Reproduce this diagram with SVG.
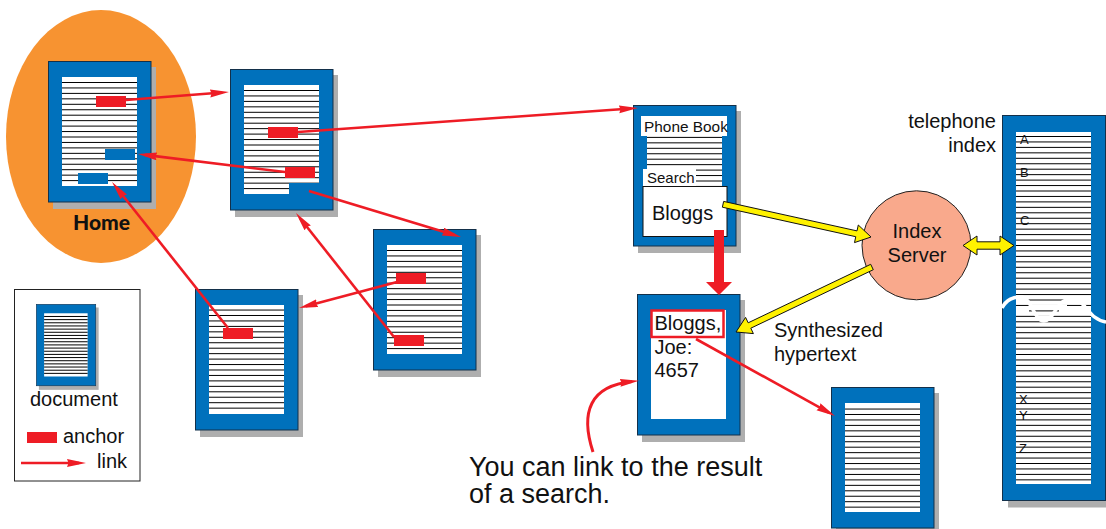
<svg xmlns="http://www.w3.org/2000/svg" width="1106" height="529" viewBox="0 0 1106 529">
<style>
text{font-family:"Liberation Sans",Arial,sans-serif;font-size:20px;fill:#111}
.shadow{fill:#aeaeae}
.page{fill:#0071bc;stroke:#13304a;stroke-width:1}
.paper{fill:#fff}
.blk{stroke:#000;stroke-width:1;fill:none;vector-effect:non-scaling-stroke}
.anchor{fill:#ee1c25}
.bluea{fill:#0071bc}
.link{stroke:#ee1c25;stroke-width:2.6;fill:none;marker-end:url(#head)}
.yel{fill:#fff200;stroke:#111;stroke-width:1}
.mini{font-size:13px}
</style>
<defs>
<marker id="head" markerUnits="userSpaceOnUse" markerWidth="20" markerHeight="9" refX="12" refY="4" orient="auto"><path d="M0,0 L19,4 L0,8 L1.500,4 Z" fill="#ee1c25"/></marker>
<g id="frame"><rect class="shadow" x="5" y="6" width="103" height="142"/><rect class="page" x="0.5" y="0.5" width="102.500" height="140.500"/><rect class="paper" x="14" y="16" width="75" height="109"/></g>
<path id="lines" class="blk" d="M14,21.500H89M14,26.950H89M14,32.400H89M14,37.850H89M14,43.300H89M14,48.750H89M14,54.200H89M14,59.650H89M14,65.100H89M14,70.550H89M14,76H89M14,81.450H89M14,86.900H89M14,92.350H89M14,97.800H89M14,103.250H89M14,108.700H89M14,114.150H89M14,119.600H89"/>
<g id="doc"><use href="#frame"/><use href="#lines"/></g>
<clipPath id="idxclip"><rect x="1016" y="132" width="75" height="352"/></clipPath>
</defs>

<ellipse id="home-area" cx="101" cy="136.500" rx="95" ry="126.500" fill="#f79331"/>

<g id="doc-home" transform="translate(48,61)"><use href="#doc"/><rect class="anchor" x="48" y="35" width="30" height="11"/><rect class="bluea" x="57" y="88" width="30" height="11"/><rect class="bluea" x="30" y="112" width="30" height="11"/></g>
<text id="home-label" x="73" y="230" style="font-family:Lato,sans-serif;font-weight:900;font-size:21px" fill="#000">Home</text>

<g id="doc-2" transform="translate(230,69)"><use href="#doc"/><rect class="bluea" x="59" y="114" width="31" height="12"/><rect class="anchor" x="38" y="58" width="30" height="11"/><rect class="anchor" x="55" y="98" width="30" height="11"/></g>
<g id="doc-3" transform="translate(373,229)"><use href="#doc"/><rect class="anchor" x="23" y="44" width="30" height="11"/><rect class="anchor" x="21" y="106" width="30" height="11"/></g>
<g id="doc-4" transform="translate(195,289)"><use href="#frame"/><use href="#lines" y="-0.450"/><rect class="anchor" x="28" y="39" width="30" height="11"/></g>

<g id="legend"><rect x="14.500" y="289.500" width="125.500" height="191.500" fill="#fff" stroke="#222" stroke-width="1"/><use href="#doc" transform="translate(36,304) scale(.58)"/><text x="30" y="406">document</text><rect class="anchor" x="27" y="432" width="30" height="11"/><text x="63" y="443">anchor</text><text x="97" y="468">link</text><line class="link" x1="21" y1="463" x2="79" y2="463"/></g>

<g id="doc-phone" transform="translate(633,105)"><use href="#doc"/>
<rect class="bluea" x="8" y="28" width="6" height="4"/>
<rect class="paper" x="8" y="11" width="86" height="20"/>
<rect class="paper" x="10" y="64" width="53" height="18"/>
<rect x="10" y="81.500" width="84" height="50" fill="#fff" stroke="#111" stroke-width="1"/>
<text x="11" y="27" style="font-size:15.400px">Phone Book</text><text x="14" y="78" style="font-size:15px">Search</text><text x="19" y="115">Bloggs</text></g>

<g id="doc-result" transform="translate(637,294)"><use href="#frame"/><rect x="14.500" y="16.500" width="72" height="26.500" fill="#fff" stroke="#ee1c25" stroke-width="2.500"/><text x="17.500" y="36">Bloggs,</text><text x="17.500" y="60">Joe:</text><text x="17.500" y="83">4657</text></g>
<g id="doc-target" transform="translate(831,387)"><use href="#frame"/><use href="#lines" y="0.550"/></g>

<g id="doc-index"><rect class="shadow" x="1008" y="121" width="98" height="386.500"/><rect class="page" x="1002.500" y="115.500" width="103" height="385"/><rect class="paper" x="1016" y="132" width="75" height="352"/>
<g clip-path="url(#idxclip)"><use href="#lines" transform="translate(1002,115)"/><use href="#lines" transform="translate(1002,224)"/><use href="#lines" transform="translate(1002,333)"/><use href="#lines" transform="translate(1002,442)"/><path class="blk" d="M1016,240.050H1091M1016,349.050H1091M1016,458.050H1091"/></g>
<text class="mini" x="1020" y="144">A</text><text class="mini" x="1020" y="177">B</text><text class="mini" x="1020" y="225">C</text><text class="mini" x="1019" y="404">X</text><text class="mini" x="1019" y="420">Y</text><text class="mini" x="1019" y="453">Z</text>
<g id="break" fill="#fff"><rect x="1016" y="299" width="9" height="2"/><rect x="1066" y="299" width="25" height="2"/><rect x="1031" y="304.500" width="36" height="2"/><rect x="1016" y="310" width="13" height="2"/><rect x="1059" y="310" width="32" height="2"/><rect x="1038" y="315.500" width="13" height="2"/><path d="M1002,308 C1006,300 1014,296 1022,297 C1032,299 1034,321 1044,321 C1054,321 1056,300 1070,299 C1086,298 1088,320 1106,322" fill="none" stroke="#fff" stroke-width="3.500"/></g></g>

<g id="index-server"><circle cx="916.500" cy="245.300" r="54.500" fill="#f9a98c" stroke="#222" stroke-width="1"/><text x="917" y="238" text-anchor="middle">Index</text><text x="917" y="262" text-anchor="middle">Server</text></g>

<g id="connectors">
<line class="link" x1="126" y1="100" x2="222" y2="92.500"/>
<line class="link" x1="298" y1="132" x2="631" y2="108.500"/>
<line class="link" x1="285" y1="172" x2="145" y2="154.900"/>
<line class="link" x1="228" y1="328" x2="116.400" y2="187.500"/>
<line class="link" x1="397" y1="282" x2="305.800" y2="306.200"/>
<line class="link" x1="394" y1="337" x2="300.300" y2="218.500"/>
<line class="link" x1="309" y1="191" x2="454.300" y2="235"/>
<line class="link" x1="696" y1="339" x2="828.900" y2="412.600"/>
<path class="link" style="stroke-width:3" d="M593,452 C580,412 590,386 632,381.600"/>
<path fill="#ee1c25" d="M714,230H724V282H732L719,295L706,282H714Z"/>
<path class="yel" d="M723.650,201.400L857,230.900L858.300,225L871,237L854.500,242.600L855.750,236.700L722.350,207.200Z"/>
<path class="yel" d="M873.300,269.700L870.700,264.300L748.200,322.800L745.600,317.400L736,332L753.400,333.600L750.800,328.200Z"/>
<path class="yel" d="M963,245.500L977,236V241.800H1000V236L1014,245.500L1000,255V249.200H977V255Z"/>
</g>

<g id="labels">
<text x="996" y="128" text-anchor="end">telephone</text><text x="996" y="152" text-anchor="end">index</text>
<text x="774" y="337">Synthesized</text><text x="774" y="361">hypertext</text>
<text x="469" y="476" style="font-size:27px">You can link to the result</text><text x="469" y="503" style="font-size:27px">of a search.</text>
</g>
</svg>
